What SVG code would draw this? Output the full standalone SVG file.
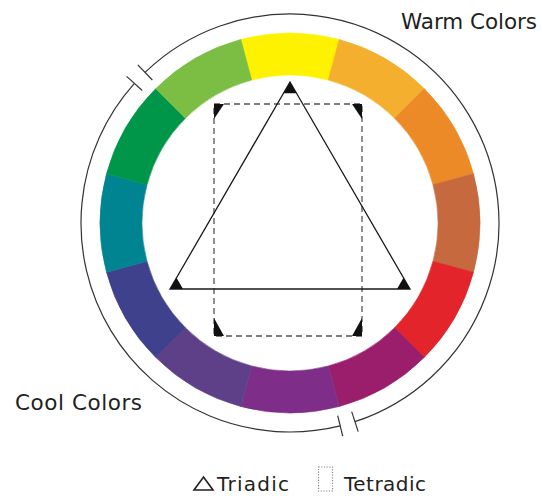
<svg xmlns="http://www.w3.org/2000/svg" width="542" height="498" viewBox="0 0 542 498">
<style>
.seg{stroke-width:0.6}
.ring{fill:none;stroke:#333;stroke-width:1.2}
.tri{fill:none;stroke:#1a1a1a;stroke-width:1.3}
.rect{fill:none;stroke:#555;stroke-width:1.3;stroke-dasharray:6 4}
.mark{fill:#111}
.lbl{font-family:"DejaVu Sans","Liberation Sans",sans-serif;fill:#231f20}
</style>
<rect width="542" height="498" fill="#fff"/>
<g id="wheel">
<path class="seg" fill="#FFF200" stroke="#FFF200" d="M240.82,39.47 A190,190 0 0 1 339.18,39.47 L328.31,80.04 A148,148 0 0 0 251.69,80.04Z"/>
<path class="seg" fill="#F3AF2D" stroke="#F3AF2D" d="M339.18,39.47 A190,190 0 0 1 424.35,88.65 L394.65,118.35 A148,148 0 0 0 328.31,80.04Z"/>
<path class="seg" fill="#EC8A27" stroke="#EC8A27" d="M424.35,88.65 A190,190 0 0 1 473.53,173.82 L432.96,184.69 A148,148 0 0 0 394.65,118.35Z"/>
<path class="seg" fill="#C6693E" stroke="#C6693E" d="M473.53,173.82 A190,190 0 0 1 473.53,272.18 L432.96,261.31 A148,148 0 0 0 432.96,184.69Z"/>
<path class="seg" fill="#E3242A" stroke="#E3242A" d="M473.53,272.18 A190,190 0 0 1 424.35,357.35 L394.65,327.65 A148,148 0 0 0 432.96,261.31Z"/>
<path class="seg" fill="#9A1E6B" stroke="#9A1E6B" d="M424.35,357.35 A190,190 0 0 1 339.18,406.53 L328.31,365.96 A148,148 0 0 0 394.65,327.65Z"/>
<path class="seg" fill="#7E2D89" stroke="#7E2D89" d="M339.18,406.53 A190,190 0 0 1 240.82,406.53 L251.69,365.96 A148,148 0 0 0 328.31,365.96Z"/>
<path class="seg" fill="#5E4089" stroke="#5E4089" d="M240.82,406.53 A190,190 0 0 1 155.65,357.35 L185.35,327.65 A148,148 0 0 0 251.69,365.96Z"/>
<path class="seg" fill="#40418D" stroke="#40418D" d="M155.65,357.35 A190,190 0 0 1 106.47,272.18 L147.04,261.31 A148,148 0 0 0 185.35,327.65Z"/>
<path class="seg" fill="#008491" stroke="#008491" d="M106.47,272.18 A190,190 0 0 1 106.47,173.82 L147.04,184.69 A148,148 0 0 0 147.04,261.31Z"/>
<path class="seg" fill="#009649" stroke="#009649" d="M106.47,173.82 A190,190 0 0 1 155.65,88.65 L185.35,118.35 A148,148 0 0 0 147.04,184.69Z"/>
<path class="seg" fill="#7BBE43" stroke="#7BBE43" d="M155.65,88.65 A190,190 0 0 1 240.82,39.47 L251.69,80.04 A148,148 0 0 0 185.35,118.35Z"/>
</g>
<g id="ring">
<path class="ring" d="M145.08,72.40 A209,209 0 1 1 354.93,421.66"/>
<path class="ring" d="M340.21,425.88 A209,209 0 0 1 134.44,83.42"/>
<line class="ring" x1="152.36" y1="79.97" x2="137.80" y2="64.84"/>
<line class="ring" x1="142.25" y1="90.44" x2="126.62" y2="76.41"/>
<line class="ring" x1="351.67" y1="411.68" x2="358.19" y2="431.64"/>
<line class="ring" x1="337.69" y1="415.69" x2="342.73" y2="436.07"/>
</g>
<g id="tetradic">
<rect class="rect" x="214" y="104" width="148" height="232"/>
<polygon class="mark" points="214,104 224,104 214,119"/>
<polygon class="mark" points="362,104 352,104 362,119"/>
<polygon class="mark" points="214,336 224,336 214,318"/>
<polygon class="mark" points="362,336 352,336 362,318"/>
</g>
<g id="triadic">
<polygon class="tri" points="290,82 410,289 170,289"/>
<polygon class="mark" points="290,82 283.5,93.3 296.5,93.3"/>
<polygon class="mark" points="170,289 183,289 176.5,277.7"/>
<polygon class="mark" points="410,289 397,289 403.5,277.7"/>
</g>
<g id="labels">
<text class="lbl" x="401" y="28.5" font-size="21.5" textLength="136" lengthAdjust="spacing">Warm Colors</text>
<text class="lbl" x="15" y="409.5" font-size="21.5" textLength="127" lengthAdjust="spacing">Cool Colors</text>
</g>
<g id="legend">
<polygon points="203.5,477 213,490 194,490" fill="none" stroke="#231f20" stroke-width="1.6" stroke-linejoin="miter"/>
<text class="lbl" x="217" y="490.5" font-size="20" textLength="72" lengthAdjust="spacing">Triadic</text>
<rect x="318.5" y="467" width="14" height="24" fill="none" stroke="#888" stroke-width="1.2" stroke-dasharray="1.2 1.5"/>
<text class="lbl" x="344" y="490.5" font-size="20" textLength="82" lengthAdjust="spacing">Tetradic</text>
</g>
</svg>
